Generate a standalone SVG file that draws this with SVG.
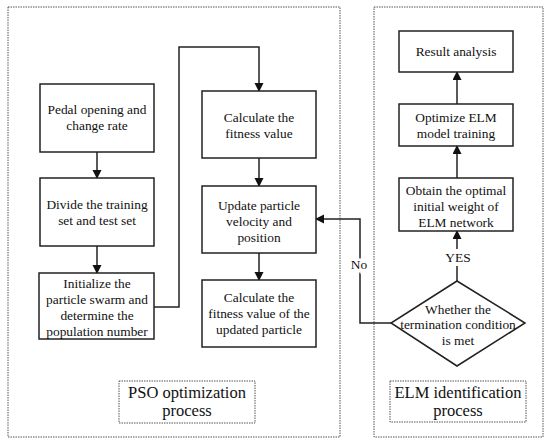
<svg xmlns="http://www.w3.org/2000/svg" width="550" height="445" viewBox="0 0 550 445">
<style>
.box{fill:#fff;stroke:#222;stroke-width:1.5}
.dot{fill:none;stroke:#555;stroke-width:1;stroke-dasharray:1.5 1}
.t{font-size:13.4px;fill:#111;text-anchor:middle}
.L{font-size:16.5px;fill:#111;text-anchor:middle}
.c{fill:none;stroke:#222;stroke-width:1.5}
</style>
<defs>
<marker id="ah" markerWidth="9" markerHeight="10" refX="8" refY="4.5" orient="auto" markerUnits="userSpaceOnUse">
<path d="M0,0 L9,4.5 L0,9 Z" fill="#111"/>
</marker>
</defs>
<rect x="0" y="0" width="550" height="445" fill="#fff"/>
<g font-family="Liberation Serif">
<g id="pso-region">
<rect class="dot" x="8" y="7" width="332" height="430"/>
<rect class="dot" x="119" y="381" width="136" height="42"/>
<text class="L" x="187" y="398">PSO optimization</text>
<text class="L" x="187" y="416">process</text>
</g>
<g id="elm-region">
<rect class="dot" x="374" y="7" width="169" height="430"/>
<rect class="dot" x="390" y="381" width="136" height="41"/>
<text class="L" x="458" y="398">ELM identification</text>
<text class="L" x="458" y="416">process</text>
</g>
<g id="connectors">
<line class="c" x1="97" y1="152" x2="97" y2="178" marker-end="url(#ah)"/>
<line class="c" x1="97" y1="246" x2="97" y2="273" marker-end="url(#ah)"/>
<polyline class="c" points="154,307 179,307 179,47 259,47 259,91" marker-end="url(#ah)"/>
<line class="c" x1="259" y1="158" x2="259" y2="186" marker-end="url(#ah)"/>
<line class="c" x1="259" y1="253" x2="259" y2="280" marker-end="url(#ah)"/>
<polyline class="c" points="391,323 360,323 360,219 316,219" marker-end="url(#ah)"/>
<line class="c" x1="457" y1="281" x2="457" y2="266"/>
<line class="c" x1="457" y1="249" x2="457" y2="231" marker-end="url(#ah)"/>
<line class="c" x1="457" y1="178" x2="457" y2="146" marker-end="url(#ah)"/>
<line class="c" x1="457" y1="104" x2="457" y2="72" marker-end="url(#ah)"/>
<text class="t" x="359" y="269" style="paint-order:stroke" stroke="#fff" stroke-width="5">No</text>
<text class="t" x="458" y="262">YES</text>
</g>
<g id="pedal">
<rect class="box" x="40" y="84" width="114" height="68"/>
<text class="t" x="97" y="114">Pedal opening and</text>
<text class="t" x="97" y="130">change rate</text>
</g>
<g id="divide">
<rect class="box" x="40" y="178" width="114" height="68"/>
<text class="t" x="97" y="209">Divide the training</text>
<text class="t" x="97" y="225">set and test set</text>
</g>
<g id="init">
<rect class="box" x="39" y="273" width="115" height="66"/>
<text class="t" x="97" y="288">Initialize the</text>
<text class="t" x="97" y="304">particle swarm and</text>
<text class="t" x="97" y="320">determine the</text>
<text class="t" x="97" y="336">population number</text>
</g>
<g id="calc">
<rect class="box" x="202" y="91" width="114" height="67"/>
<text class="t" x="259" y="122">Calculate the</text>
<text class="t" x="259" y="138">fitness value</text>
</g>
<g id="update">
<rect class="box" x="202" y="186" width="114" height="67"/>
<text class="t" x="259" y="210">Update particle</text>
<text class="t" x="259" y="226">velocity and</text>
<text class="t" x="259" y="242">position</text>
</g>
<g id="calc2">
<rect class="box" x="202" y="280" width="114" height="67"/>
<text class="t" x="259" y="302">Calculate the</text>
<text class="t" x="259" y="318">fitness value of the</text>
<text class="t" x="259" y="334">updated particle</text>
</g>
<g id="result">
<rect class="box" x="399" y="31" width="114" height="41"/>
<text class="t" x="456" y="56">Result analysis</text>
</g>
<g id="optimize">
<rect class="box" x="399" y="104" width="114" height="42"/>
<text class="t" x="456" y="122">Optimize ELM</text>
<text class="t" x="456" y="138">model training</text>
</g>
<g id="obtain">
<rect class="box" x="399" y="178" width="114" height="53"/>
<text class="t" x="456" y="195">Obtain the optimal</text>
<text class="t" x="456" y="211">initial weight of</text>
<text class="t" x="456" y="227">ELM network</text>
</g>
<g id="decision">
<polygon class="box" points="457,281 525,323 457,366 391,323"/>
<text class="t" x="458" y="314">Whether the</text>
<text class="t" x="458" y="329">termination condition</text>
<text class="t" x="458" y="345">is met</text>
</g>
</g>
</svg>
